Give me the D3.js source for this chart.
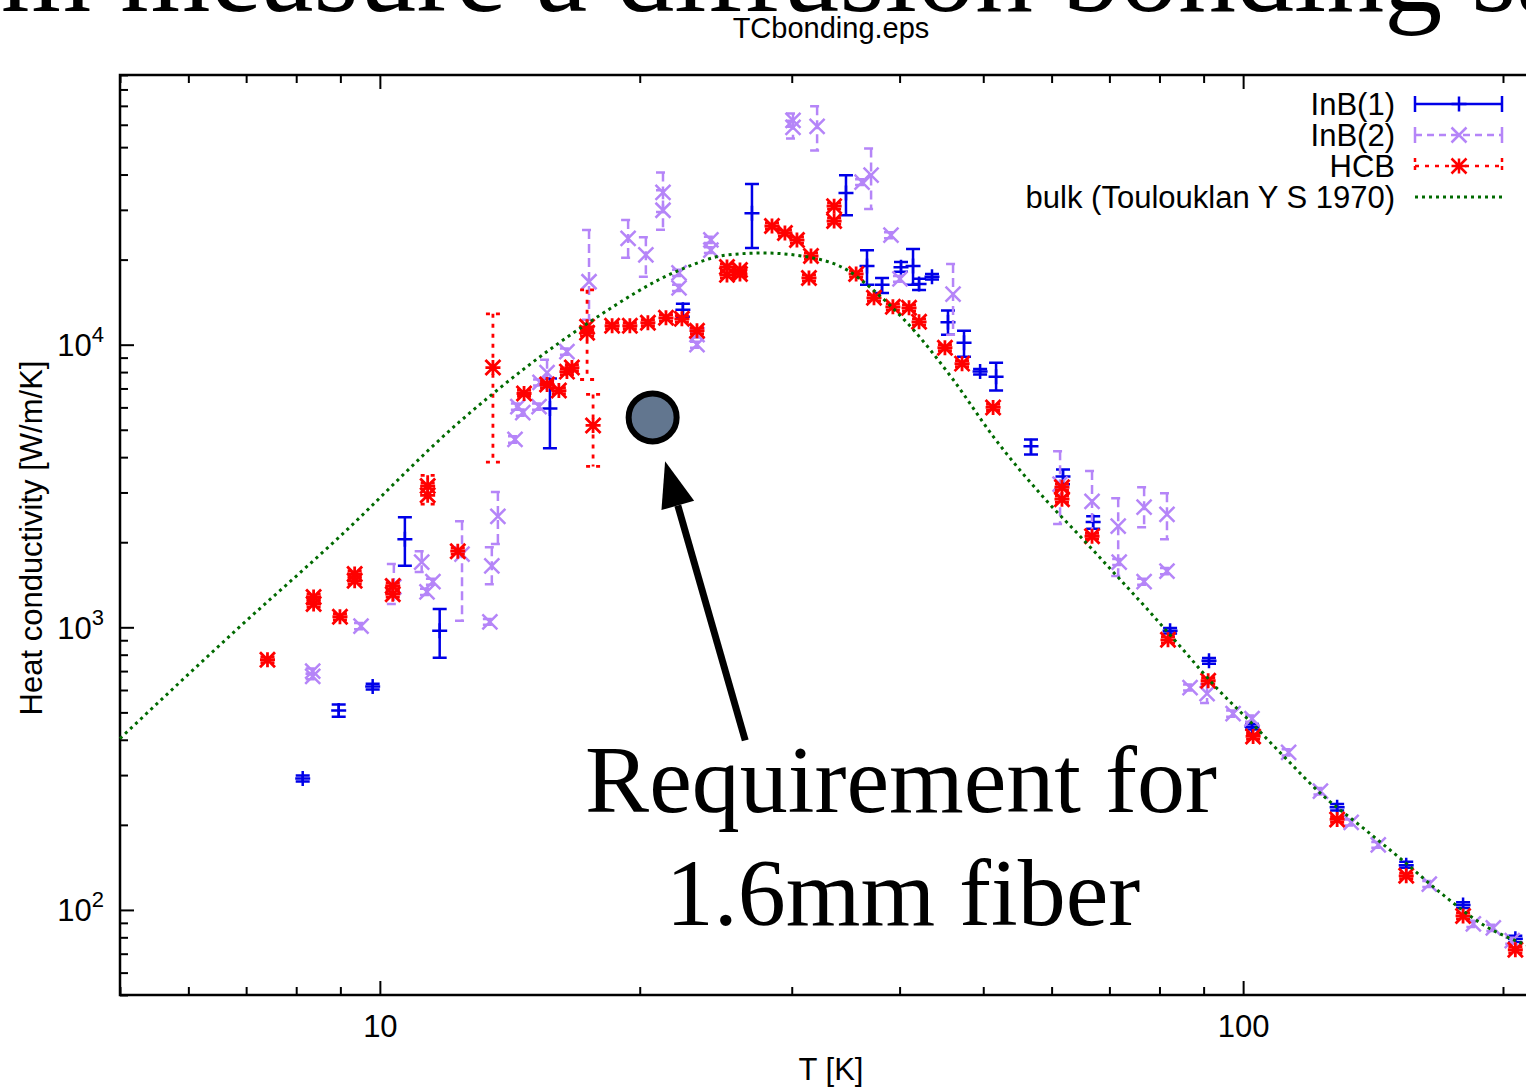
<!DOCTYPE html>
<html lang="en">
  <head>
    <meta charset="UTF-8" />
    <title>TCbonding</title>
    <style>
      body { margin: 0; background: #fff; }
      svg { display: block; font-family: 'Liberation Sans', Arial, sans-serif; }
    </style>
  </head>
  <body>
    <script src="https://d3js.org/d3.v7.min.js"></script>
    <script>
      // each row: [T (K), k (W/m/K), k low, k high]
      const inb1 = [
        [8.14, 292, 285, 299], [8.96, 508, 483, 533], [9.81, 617, 602, 632],
        [10.69, 2050, 1650, 2450], [11.73, 972, 780, 1160], [15.74, 5950, 4300, 7590],
        [22.44, 13300, 12550, 13950], [26.98, 29200, 22000, 37000], [34.67, 34400, 28700, 39800],
        [36.67, 19000, 16300, 21600], [38.17, 16300, 15250, 17200], [40.15, 18800, 18100, 19600],
        [41.46, 19000, 16300, 21800], [42.13, 16400, 15600, 17100], [43.61, 17400, 17000, 17800],
        [45.51, 12000, 10850, 13200], [47.5, 10150, 9070, 11200], [49.58, 8030, 7850, 8200],
        [51.74, 7700, 6880, 8640], [56.79, 4370, 4090, 4620], [61.85, 3420, 3210, 3620],
        [67.03, 2360, 2230, 2470], [82.3, 972, 950, 995], [91.3, 761, 743, 779],
        [102.4, 445, 435, 455], [128.5, 231, 225, 237], [154.5, 144, 141, 148],
        [179.8, 104, 101.5, 106.5], [206.7, 79, 77, 81]
      ]

      const inb2 = [
        [8.36, 700, 685, 715], [8.36, 670, 655, 685], [9.51, 1010, 985, 1035],
        [10.38, 1390, 1210, 1675], [11.18, 1700, 1570, 1860], [11.34, 1335, 1300, 1370],
        [11.52, 1450, 1415, 1485], [12.45, 1815, 1055, 2375], [13.41, 1045, 1020, 1070],
        [13.48, 1650, 1420, 1920], [13.7, 2470, 1970, 3010], [14.34, 4620, 4500, 4740],
        [14.45, 6040, 5890, 6190], [14.64, 5750, 5610, 5900], [15.29, 6040, 5890, 6190],
        [15.33, 7350, 7170, 7530], [15.62, 7970, 7230, 8850], [16.47, 9450, 9220, 9690],
        [17.47, 16700, 12250, 25450], [19.39, 23800, 20300, 27600], [20.33, 20800, 17400, 24000],
        [21.28, 34600, 29500, 40700], [21.28, 29900, 25500, 35200], [22.21, 17950, 17500, 18400],
        [22.21, 15900, 15500, 16300], [23.3, 10850, 10600, 11100], [23.3, 10000, 9750, 10250],
        [24.18, 23500, 22900, 24100], [24.18, 21600, 21100, 22100], [30.1, 62200, 59000, 65800],
        [30.1, 58700, 53700, 62000], [32.1, 59200, 48700, 69700], [36.19, 37600, 36700, 38500],
        [37.07, 39800, 30200, 49500], [39.09, 24400, 23800, 25000], [40.04, 17100, 16700, 17500],
        [46.13, 15100, 10850, 19300], [61.37, 3210, 2320, 4200], [66.83, 2790, 2140, 3570],
        [71.66, 2280, 1520, 2860], [71.85, 1700, 1660, 1745], [76.79, 2660, 2260, 3130],
        [76.79, 1450, 1415, 1485], [81.62, 2510, 2050, 2980], [81.62, 1580, 1540, 1620],
        [86.8, 612, 597, 627], [90.83, 583, 540, 630], [97.36, 495, 483, 508],
        [102.4, 475, 463, 487], [112.9, 361, 352, 370], [122.9, 263, 256, 270],
        [133.4, 204, 199, 209], [143.4, 170, 166, 174], [164.3, 123.5, 120.5, 126.5],
        [184.8, 89.3, 87, 91.5], [194.9, 86.4, 84.2, 88.6], [205, 77.8, 75.9, 79.7]
      ]

      const hcb = [
        [7.41, 768, 750, 786], [8.38, 1280, 1250, 1310], [8.38, 1210, 1180, 1240],
        [8.99, 1090, 1063, 1117], [9.35, 1545, 1507, 1583], [9.35, 1460, 1424, 1496],
        [10.35, 1400, 1366, 1435], [10.35, 1310, 1278, 1343], [11.36, 3160, 3080, 3240],
        [11.36, 2930, 2730, 3450], [12.31, 1860, 1815, 1905], [13.52, 8300, 3840, 12860],
        [14.69, 6720, 6560, 6890], [15.62, 7230, 7050, 7410], [16.12, 6880, 6710, 7050],
        [16.47, 8030, 7830, 8230], [16.69, 8300, 8100, 8500], [17.38, 11570, 7530, 15630],
        [17.38, 11020, 10750, 11300], [17.66, 5180, 3710, 6670], [18.58, 11670, 11390, 11960],
        [19.48, 11670, 11390, 11960], [20.44, 11960, 11670, 12260], [21.45, 12450, 12150, 12760],
        [22.38, 12350, 12050, 12660], [23.3, 11210, 10940, 11490], [25.24, 18840, 18380, 19310],
        [25.24, 17660, 17230, 18100], [26.13, 18390, 17940, 18850], [26.13, 17790, 17360, 18230],
        [28.46, 26300, 25660, 26960], [29.46, 24840, 24230, 25460], [30.42, 23460, 22890, 24050],
        [31.58, 20600, 20100, 21120], [31.41, 17230, 16810, 17660], [33.59, 30920, 30170, 31690],
        [33.59, 27370, 26700, 28050], [35.62, 17800, 17370, 18250], [37.36, 14650, 14290, 15020],
        [39.29, 13610, 13280, 13950], [41.02, 13500, 13170, 13840], [42.13, 12050, 11760, 12350],
        [45.14, 9760, 9520, 10000], [47.25, 8570, 8360, 8780], [51.33, 6000, 5850, 6150],
        [61.68, 3130, 3050, 3210], [61.68, 2840, 2770, 2910], [66.83, 2100, 2050, 2150],
        [81.84, 903, 881, 926], [91.1, 647, 631, 663], [102.7, 411, 401, 421],
        [128.5, 209, 204, 214], [154.5, 132, 129, 135], [179.8, 95.2, 92.9, 97.6],
        [206.7, 72.3, 70.5, 74.1]
      ]

      // bulk copper, Touloukian 1970: [T, k]
      const bulk = [
        [5, 404], [6.88, 1004], [8.92, 2050], [12.38, 5350], [17.51, 12050], [22.27, 18390],
        [25.24, 20770], [27.79, 21110], [31.75, 20270], [34.76, 18390], [37.26, 15630],
        [40.8, 11960], [46.13, 7530], [51.33, 4740], [59.28, 2790], [64.74, 2100],
        [70.7, 1570], [77.43, 1160], [85.2, 833], [93.31, 607], [101.9, 464], [111.2, 352],
        [123.7, 254], [137.7, 195], [153.3, 149], [170.5, 113], [189.7, 88.6], [212.8, 75.2]
      ]

      const xMajor = [10, 100]
      const xMinor = [5, 6, 7, 8, 9, 20, 30, 40, 50, 60, 70, 80, 90, 200, 300]
      const yMajor = [100, 1000, 10000]
      const yMinor = [50, 60, 70, 80, 90, 200, 300, 400, 500, 600, 700, 800, 900,
        2000, 3000, 4000, 5000, 6000, 7000, 8000, 9000, 20000, 30000, 40000, 50000,
        60000, 70000, 80000, 90000]

      const seriesNames = ['InB(1)', 'InB(2)', 'HCB', 'bulk (Toulouklan Y S 1970)']
      const requirement = [20.7, 5530]
      const arrowFrom = [26.5, 398]
      const arrowTo = [21.4, 3870]

      const width = 1526
      const height = 1088
      const padding = { top: 75, bottom: 93, left: 120 }
      const plotRight = 1655
      const fontSize = 31

      const blue = '#0000e8'
      const purple = '#b585f8'
      const red = '#ff0000'
      const green = '#006a00'

      const svg = d3.select('body').append('svg')
      svg.attr('width', width).attr('height', height)

      const x = d3.scaleLog().domain([5, 300]).range([padding.left, plotRight])
      const y = d3.scaleLog().domain([50, 90000]).range([height - padding.bottom, padding.top])

      // slide title behind the plot (cut off at the top)
      svg.append('text')
        .attr('x', 1).attr('y', 11)
        .attr('font-family', "'Liberation Serif', 'Times New Roman', serif")
        .attr('font-size', 116)
        .text('m measure a diffusion bonding sample')

      svg.append('text')
        .attr('x', 831).attr('y', 38)
        .attr('text-anchor', 'middle')
        .attr('font-size', 29)
        .text('TCbonding.eps')

      // axes
      const bottom = height - padding.bottom
      const xAxisMajor = d3.axisBottom(x).tickValues(xMajor).tickSize(-14).tickPadding(20).tickFormat(d3.format('d'))
      const xAxisMinor = d3.axisBottom(x).tickValues(xMinor).tickSize(-8).tickFormat('')
      const xTopMajor = d3.axisTop(x).tickValues(xMajor).tickSize(-14).tickFormat('')
      const xTopMinor = d3.axisTop(x).tickValues(xMinor).tickSize(-8).tickFormat('')
      const yAxisMajor = d3.axisLeft(y).tickValues(yMajor).tickSize(-14).tickPadding(20).tickFormat('')
      const yAxisMinor = d3.axisLeft(y).tickValues(yMinor).tickSize(-8).tickFormat('')

      const styleAxis = g => {
        g.select('.domain').remove()
        g.selectAll('.tick line').attr('stroke', '#000').attr('stroke-width', 2)
        g.selectAll('.tick text').attr('fill', '#000').attr('font-size', fontSize)
          .attr('font-family', "'Liberation Sans', Arial, sans-serif")
      }

      svg.append('g').attr('transform', `translate(0,${bottom})`).call(xAxisMajor).call(styleAxis)
      svg.append('g').attr('transform', `translate(0,${bottom})`).call(xAxisMinor).call(styleAxis)
      svg.append('g').attr('transform', `translate(0,${padding.top})`).call(xTopMajor).call(styleAxis)
      svg.append('g').attr('transform', `translate(0,${padding.top})`).call(xTopMinor).call(styleAxis)
      svg.append('g').attr('transform', `translate(${padding.left},0)`).call(yAxisMinor).call(styleAxis)

      const yg = svg.append('g').attr('transform', `translate(${padding.left},0)`).call(yAxisMajor).call(styleAxis)
      yg.selectAll('.tick text').each(function (d) {
        const t = d3.select(this)
        t.attr('x', -16).attr('dy', null).attr('y', 11)
        t.append('tspan').text('10')
        t.append('tspan').attr('dy', -14).attr('font-size', 22).text(Math.round(Math.log10(d)))
      })

      svg.append('rect')
        .attr('x', padding.left).attr('y', padding.top)
        .attr('width', plotRight - padding.left).attr('height', bottom - padding.top)
        .attr('fill', 'none').attr('stroke', '#000').attr('stroke-width', 2.5)

      svg.append('text')
        .attr('x', 831).attr('y', 1080)
        .attr('text-anchor', 'middle').attr('font-size', fontSize)
        .text('T [K]')

      svg.append('text')
        .attr('transform', 'translate(42,538) rotate(-90)')
        .attr('text-anchor', 'middle').attr('font-size', fontSize)
        .text('Heat conductivity [W/m/K]')

      // markers and error bars
      const cap = 7
      const ms = 7.5
      const plus = (cx, cy) => `M${cx - ms},${cy}H${cx + ms}M${cx},${cy - ms}V${cy + ms}`
      const cross = (cx, cy) => `M${cx - ms},${cy - ms}L${cx + ms},${cy + ms}M${cx - ms},${cy + ms}L${cx + ms},${cy - ms}`
      const star = (cx, cy) => plus(cx, cy) + cross(cx, cy)
      const errPath = d => {
        const cx = x(d[0])
        const lo = y(d[2])
        const hi = y(d[3])
        return `M${cx},${hi}V${lo}M${cx - cap},${hi}H${cx + cap}M${cx - cap},${lo}H${cx + cap}`
      }

      const plot = svg.append('g')
      const drawSeries = (data, color, dash, marker, lw) => {
        const g = plot.append('g').attr('fill', 'none').attr('stroke', color).attr('stroke-width', lw)
        g.selectAll('path.err').data(data).join('path')
          .attr('class', 'err')
          .attr('stroke-dasharray', dash)
          .attr('d', errPath)
        g.selectAll('path.pt').data(data).join('path')
          .attr('class', 'pt')
          .attr('d', d => marker(x(d[0]), y(d[1])))
      }

      drawSeries(inb1, blue, null, plus, 2.5)
      drawSeries(inb2, purple, '9,5', cross, 2.5)
      drawSeries(hcb, red, '4,6', star, 2.8)

      const line = d3.line()
        .x(d => x(d[0]))
        .y(d => y(d[1]))
        .curve(d3.curveMonotoneX)

      plot.append('path')
        .datum(bulk)
        .attr('fill', 'none')
        .attr('stroke', green)
        .attr('stroke-width', 3)
        .attr('stroke-dasharray', '3,4')
        .attr('d', line)

      // legend
      const legend = svg.append('g')
      const legendStyles = [
        { color: blue, dash: null, marker: plus, caps: true },
        { color: purple, dash: '7,5', marker: cross, caps: true },
        { color: red, dash: '4,6', marker: star, caps: true },
        { color: green, dash: '3,4', marker: null, caps: false }
      ]
      seriesNames.forEach((name, i) => {
        const cy = 104 + i * 31
        const s = legendStyles[i]
        legend.append('text')
          .attr('x', 1395).attr('y', cy + 11)
          .attr('text-anchor', 'end').attr('font-size', fontSize)
          .text(name)
        const g = legend.append('g').attr('fill', 'none').attr('stroke', s.color)
          .attr('stroke-width', s.caps ? 2.5 : 3)
        g.append('path').attr('stroke-dasharray', s.dash)
          .attr('d', `M1415,${cy}H1502`)
        if (s.caps) {
          g.append('path').attr('stroke-dasharray', s.dash === '4,6' ? '4,4' : null)
            .attr('d', `M1415,${cy - 8}V${cy + 8}M1502,${cy - 8}V${cy + 8}`)
          g.append('path').attr('d', s.marker(1459, cy))
        }
      })

      // annotation
      const ax0 = x(arrowFrom[0]), ay0 = y(arrowFrom[1])
      const ax1 = x(arrowTo[0]), ay1 = y(arrowTo[1])
      const ang = Math.atan2(ay1 - ay0, ax1 - ax0)
      const headLen = 46, headHalf = 17
      const bx = ax1 - headLen * Math.cos(ang), by = ay1 - headLen * Math.sin(ang)
      svg.append('line')
        .attr('x1', ax0).attr('y1', ay0).attr('x2', bx).attr('y2', by)
        .attr('stroke', '#000').attr('stroke-width', 7)
      svg.append('path')
        .attr('fill', '#000')
        .attr('d', `M${ax1},${ay1}L${bx + headHalf * Math.sin(ang)},${by - headHalf * Math.cos(ang)}` +
          `L${bx - headHalf * Math.sin(ang)},${by + headHalf * Math.cos(ang)}Z`)

      svg.append('circle')
        .attr('cx', x(requirement[0])).attr('cy', y(requirement[1]))
        .attr('r', 24)
        .attr('fill', '#62768f')
        .attr('stroke', '#000').attr('stroke-width', 6)

      const note = svg.append('text')
        .attr('font-family', "'Liberation Serif', 'Times New Roman', serif")
        .attr('font-size', 96)
        .attr('text-anchor', 'middle')
      note.append('tspan').attr('x', 901).attr('y', 812).text('Requirement for')
      note.append('tspan').attr('x', 903).attr('y', 925).text('1.6mm fiber')
    </script>
  </body>
</html>
